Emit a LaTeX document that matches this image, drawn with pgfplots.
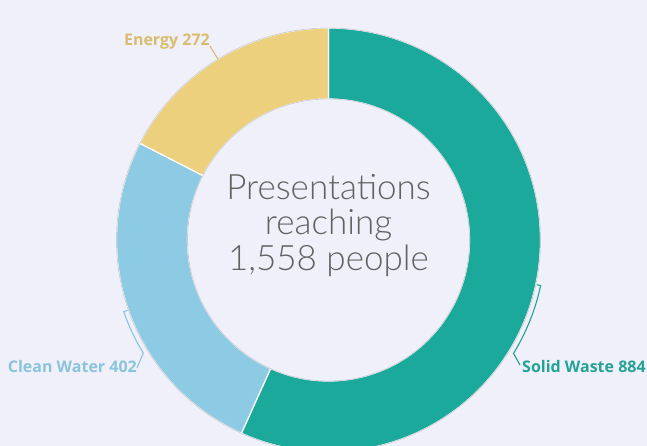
\documentclass[border=0pt]{standalone}
\usepackage{fontspec}
\setmainfont{Open Sans}
\newfontfamily\centerfont{Lato Light}
\usepackage{pgfplots}
\usepackage{pgfplotstable}
\pgfplotsset{compat=1.18}
\definecolor{bg}{RGB}{240,240,250}
\definecolor{cwaste}{RGB}{27,169,156}
\definecolor{cwater}{RGB}{141,202,227}
\definecolor{cenergy}{RGB}{236,208,126}
\definecolor{twaste}{RGB}{33,163,150}
\definecolor{twater}{RGB}{138,195,220}
\definecolor{tenergy}{RGB}{218,188,110}
\definecolor{ctext}{RGB}{98,98,98}
\definecolor{rim}{RGB}{205,205,215}

\pgfplotstableread{
label value
SolidWaste 884
CleanWater 402
Energy 272
}\datatable

\pgfplotstablegetelem{0}{value}\of\datatable \let\vA\pgfplotsretval
\pgfplotstablegetelem{1}{value}\of\datatable \let\vB\pgfplotsretval
\pgfplotstablegetelem{2}{value}\of\datatable \let\vC\pgfplotsretval
\pgfmathsetmacro\tot{\vA+\vB+\vC}
\pgfmathsetmacro\aO{90}
\pgfmathsetmacro\aA{90-360*(\vA/\tot)}
\pgfmathsetmacro\aB{\aA-360*(\vB/\tot)}
\pgfmathsetmacro\aC{\aB-360*(\vC/\tot)}
\pgfmathsetmacro\mA{(\aO+\aA)/2}
\pgfmathsetmacro\mB{(\aA+\aB)/2}
\pgfmathsetmacro\mC{(\aB+\aC)/2}
\def\cx{328.5}
\def\cy{206}
\def\R{212}
\def\r{141}

\newcommand{\slice}[3]{%
  \fill[#3, draw=white, line width=1.2pt]
    (axis cs:{\cx+\R*cos(#1)},{\cy+\R*sin(#1)})
    arc[start angle=#1, end angle=#2, radius=\R pt]
    -- (axis cs:{\cx+\r*cos(#2)},{\cy+\r*sin(#2)})
    arc[start angle=#2, end angle=#1, radius=\r pt] -- cycle;}

\begin{document}
\begin{tikzpicture}
\begin{axis}[
  width=647pt, height=446pt, scale only axis,
  xmin=0, xmax=647, ymin=0, ymax=446,
  hide axis, clip=true,
]
\fill[bg] (axis cs:-5,-5) rectangle (axis cs:652,451);
\slice{\aO}{\aA}{cwaste}
\slice{\aA}{\aB}{cwater}
\slice{\aB}{\aC}{cenergy}
\draw[rim, line width=0.8pt] (axis cs:\cx,\cy) circle[radius=\R pt];
\draw[rim, line width=0.8pt] (axis cs:\cx,\cy) circle[radius=\r pt];

% leader lines
\draw[twaste, line width=1.1pt]
  (axis cs:{\cx+213*cos(\mA)},{\cy+213*sin(\mA)})
  -- (axis cs:{\cx+217*cos(\mA)},{\cy+217*sin(\mA)})
  arc[start angle=\mA, end angle=-31.5, radius=217pt]
  -- (axis cs:520,81);
\draw[twater, line width=1.1pt]
  (axis cs:{\cx+213*cos(\mB)},{\cy+213*sin(\mB)})
  -- (axis cs:{\cx+217*cos(\mB)},{\cy+217*sin(\mB)})
  arc[start angle=\mB, end angle=-148.6, radius=217pt]
  -- (axis cs:137,78);
\draw[tenergy, line width=1.1pt]
  (axis cs:{\cx+212*cos(\mC)},{\cy+212*sin(\mC)})
  -- (axis cs:210,400);

% labels
\node[anchor=base west, text=twaste, font=\fontsize{16}{16}\selectfont\bfseries, inner sep=0pt] at (axis cs:522,73) {Solid Waste 884};
\node[anchor=base east, text=twater, font=\fontsize{16}{16}\selectfont\bfseries, inner sep=0pt] at (axis cs:137,73) {Clean Water 402};
\node[anchor=base east, text=tenergy, font=\fontsize{16}{16}\selectfont\bfseries, inner sep=0pt] at (axis cs:210,400) {Energy 272};

% centre text
\node[anchor=base, text=ctext, font=\centerfont\fontsize{35}{36}\selectfont, inner sep=0pt] at (axis cs:\cx,246) {Presentations};
\node[anchor=base, text=ctext, font=\centerfont\fontsize{35}{36}\selectfont, inner sep=0pt] at (axis cs:\cx,211) {reaching};
\node[anchor=base, text=ctext, font=\centerfont\fontsize{35}{36}\selectfont, inner sep=0pt] at (axis cs:\cx,175) {1,558 people};
\end{axis}
\pgfresetboundingbox
\useasboundingbox (current axis.south west) rectangle (current axis.north east);
\end{tikzpicture}
\end{document}
